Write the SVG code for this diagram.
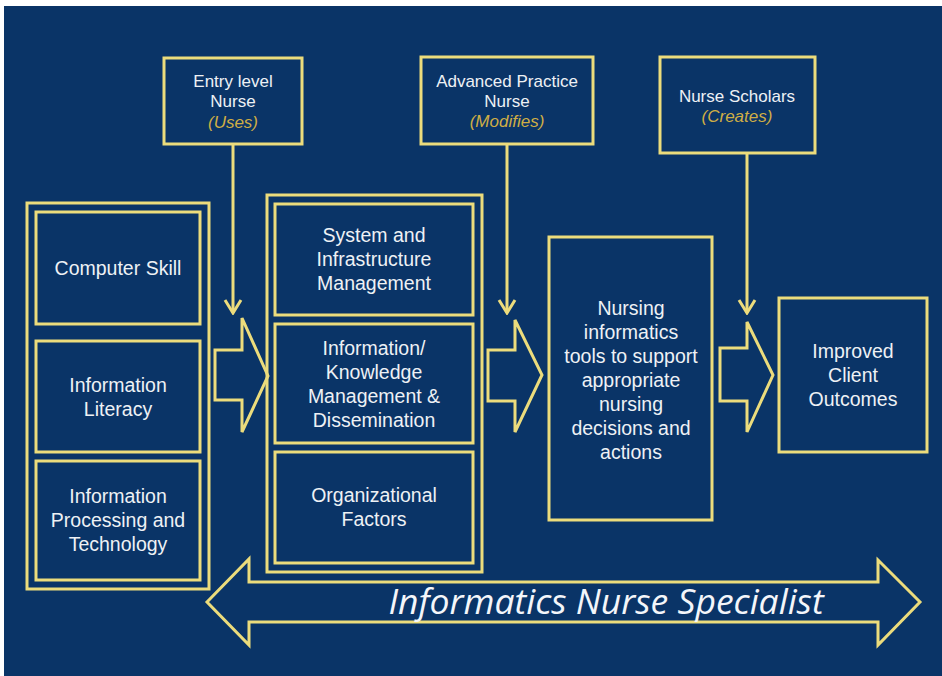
<svg xmlns="http://www.w3.org/2000/svg" width="942" height="676" viewBox="0 0 942 676">
<defs>
<style>
.bx{fill:none;stroke:#ecdc7c;stroke-width:3}
.ln{fill:none;stroke:#ecdc7c;stroke-width:3}
.t{font-family:"Liberation Sans",Arial,sans-serif;font-size:19.5px;fill:#eef1f5;text-anchor:middle}
.s{font-family:"Liberation Sans",Arial,sans-serif;font-size:17px;fill:#eef1f5;text-anchor:middle}
.g{font-style:italic;fill:#cfae45}
.big{font-family:"Open Sans",Lato,sans-serif;font-style:italic;font-size:35.5px;fill:#f4f6fa;text-anchor:middle}
</style>
<marker id="chev" viewBox="0 0 16 20" refX="14" refY="10" markerWidth="16" markerHeight="20" markerUnits="userSpaceOnUse" orient="auto">
<polyline points="1,2 14,10 1,18" fill="none" stroke="#ecdc7c" stroke-width="3"/>
</marker>
</defs>
<rect x="4" y="6" width="938" height="670" fill="#0a3467"/>

<g id="entry-nurse">
<rect class="bx" x="164" y="58" width="138" height="86"/>
<text class="s" x="233" y="87">Entry level</text>
<text class="s" x="233" y="107">Nurse</text>
<text class="s g" x="233" y="128">(Uses)</text>
</g>
<g id="advanced-nurse">
<rect class="bx" x="421" y="57" width="172" height="87"/>
<text class="s" x="507" y="87">Advanced Practice</text>
<text class="s" x="507" y="107">Nurse</text>
<text class="s g" x="507" y="127">(Modifies)</text>
</g>
<g id="nurse-scholars">
<rect class="bx" x="660" y="57" width="155" height="96"/>
<text class="s" x="737" y="102">Nurse Scholars</text>
<text class="s g" x="737" y="122">(Creates)</text>
</g>

<g id="left-group">
<rect class="bx" x="27" y="203" width="182" height="386"/>
<g id="computer-skill">
<rect class="bx" x="36" y="212" width="164" height="112"/>
<text class="t" x="118" y="275">Computer Skill</text>
</g>
<g id="information-literacy">
<rect class="bx" x="36" y="341" width="164" height="111"/>
<text class="t" x="118" y="392">Information</text>
<text class="t" x="118" y="416">Literacy</text>
</g>
<g id="information-processing">
<rect class="bx" x="36" y="461" width="164" height="119"/>
<text class="t" x="118" y="503">Information</text>
<text class="t" x="118" y="527">Processing and</text>
<text class="t" x="118" y="551">Technology</text>
</g>
</g>

<g id="middle-group">
<rect class="bx" x="267" y="195" width="215" height="377"/>
<g id="system-infrastructure">
<rect class="bx" x="275" y="204" width="198" height="111"/>
<text class="t" x="374" y="242">System and</text>
<text class="t" x="374" y="266">Infrastructure</text>
<text class="t" x="374" y="290">Management</text>
</g>
<g id="information-knowledge">
<rect class="bx" x="275" y="324" width="198" height="119"/>
<text class="t" x="374" y="355">Information/</text>
<text class="t" x="374" y="379">Knowledge</text>
<text class="t" x="374" y="403">Management &amp;</text>
<text class="t" x="374" y="427">Dissemination</text>
</g>
<g id="organizational-factors">
<rect class="bx" x="275" y="452" width="198" height="111"/>
<text class="t" x="374" y="502">Organizational</text>
<text class="t" x="374" y="526">Factors</text>
</g>
</g>

<g id="nursing-informatics-tools">
<rect class="bx" x="549" y="237" width="163" height="283"/>
<text class="t" x="631" y="315">Nursing</text>
<text class="t" x="631" y="339">informatics</text>
<text class="t" x="631" y="363">tools to support</text>
<text class="t" x="631" y="387">appropriate</text>
<text class="t" x="631" y="411">nursing</text>
<text class="t" x="631" y="435">decisions and</text>
<text class="t" x="631" y="459">actions</text>
</g>

<g id="improved-outcomes">
<rect class="bx" x="779" y="298" width="148" height="154"/>
<text class="t" x="853" y="358">Improved</text>
<text class="t" x="853" y="382">Client</text>
<text class="t" x="853" y="406">Outcomes</text>
</g>

<g id="informatics-nurse-specialist">
<polygon class="bx" points="207,602 249,559 249,582 878,582 878,560 920,602 878,645 878,622 249,622 249,645"/>
<text class="big" x="606" y="614">Informatics Nurse Specialist</text>
</g>

<g id="connectors">
<line class="ln" x1="233" y1="144" x2="233" y2="313" marker-end="url(#chev)"/>
<line class="ln" x1="507" y1="144" x2="507" y2="313" marker-end="url(#chev)"/>
<line class="ln" x1="747" y1="153" x2="747" y2="313" marker-end="url(#chev)"/>
<polygon class="bx" points="215,350 242,350 242,318 268,376 242,432 242,400 215,400"/>
<polygon class="bx" points="488,350 515,350 515,320 542,375 515,432 515,401 488,401"/>
<polygon class="bx" points="720,348 747,348 747,322 773,375 747,432 747,401 720,401"/>
</g>
</svg>
